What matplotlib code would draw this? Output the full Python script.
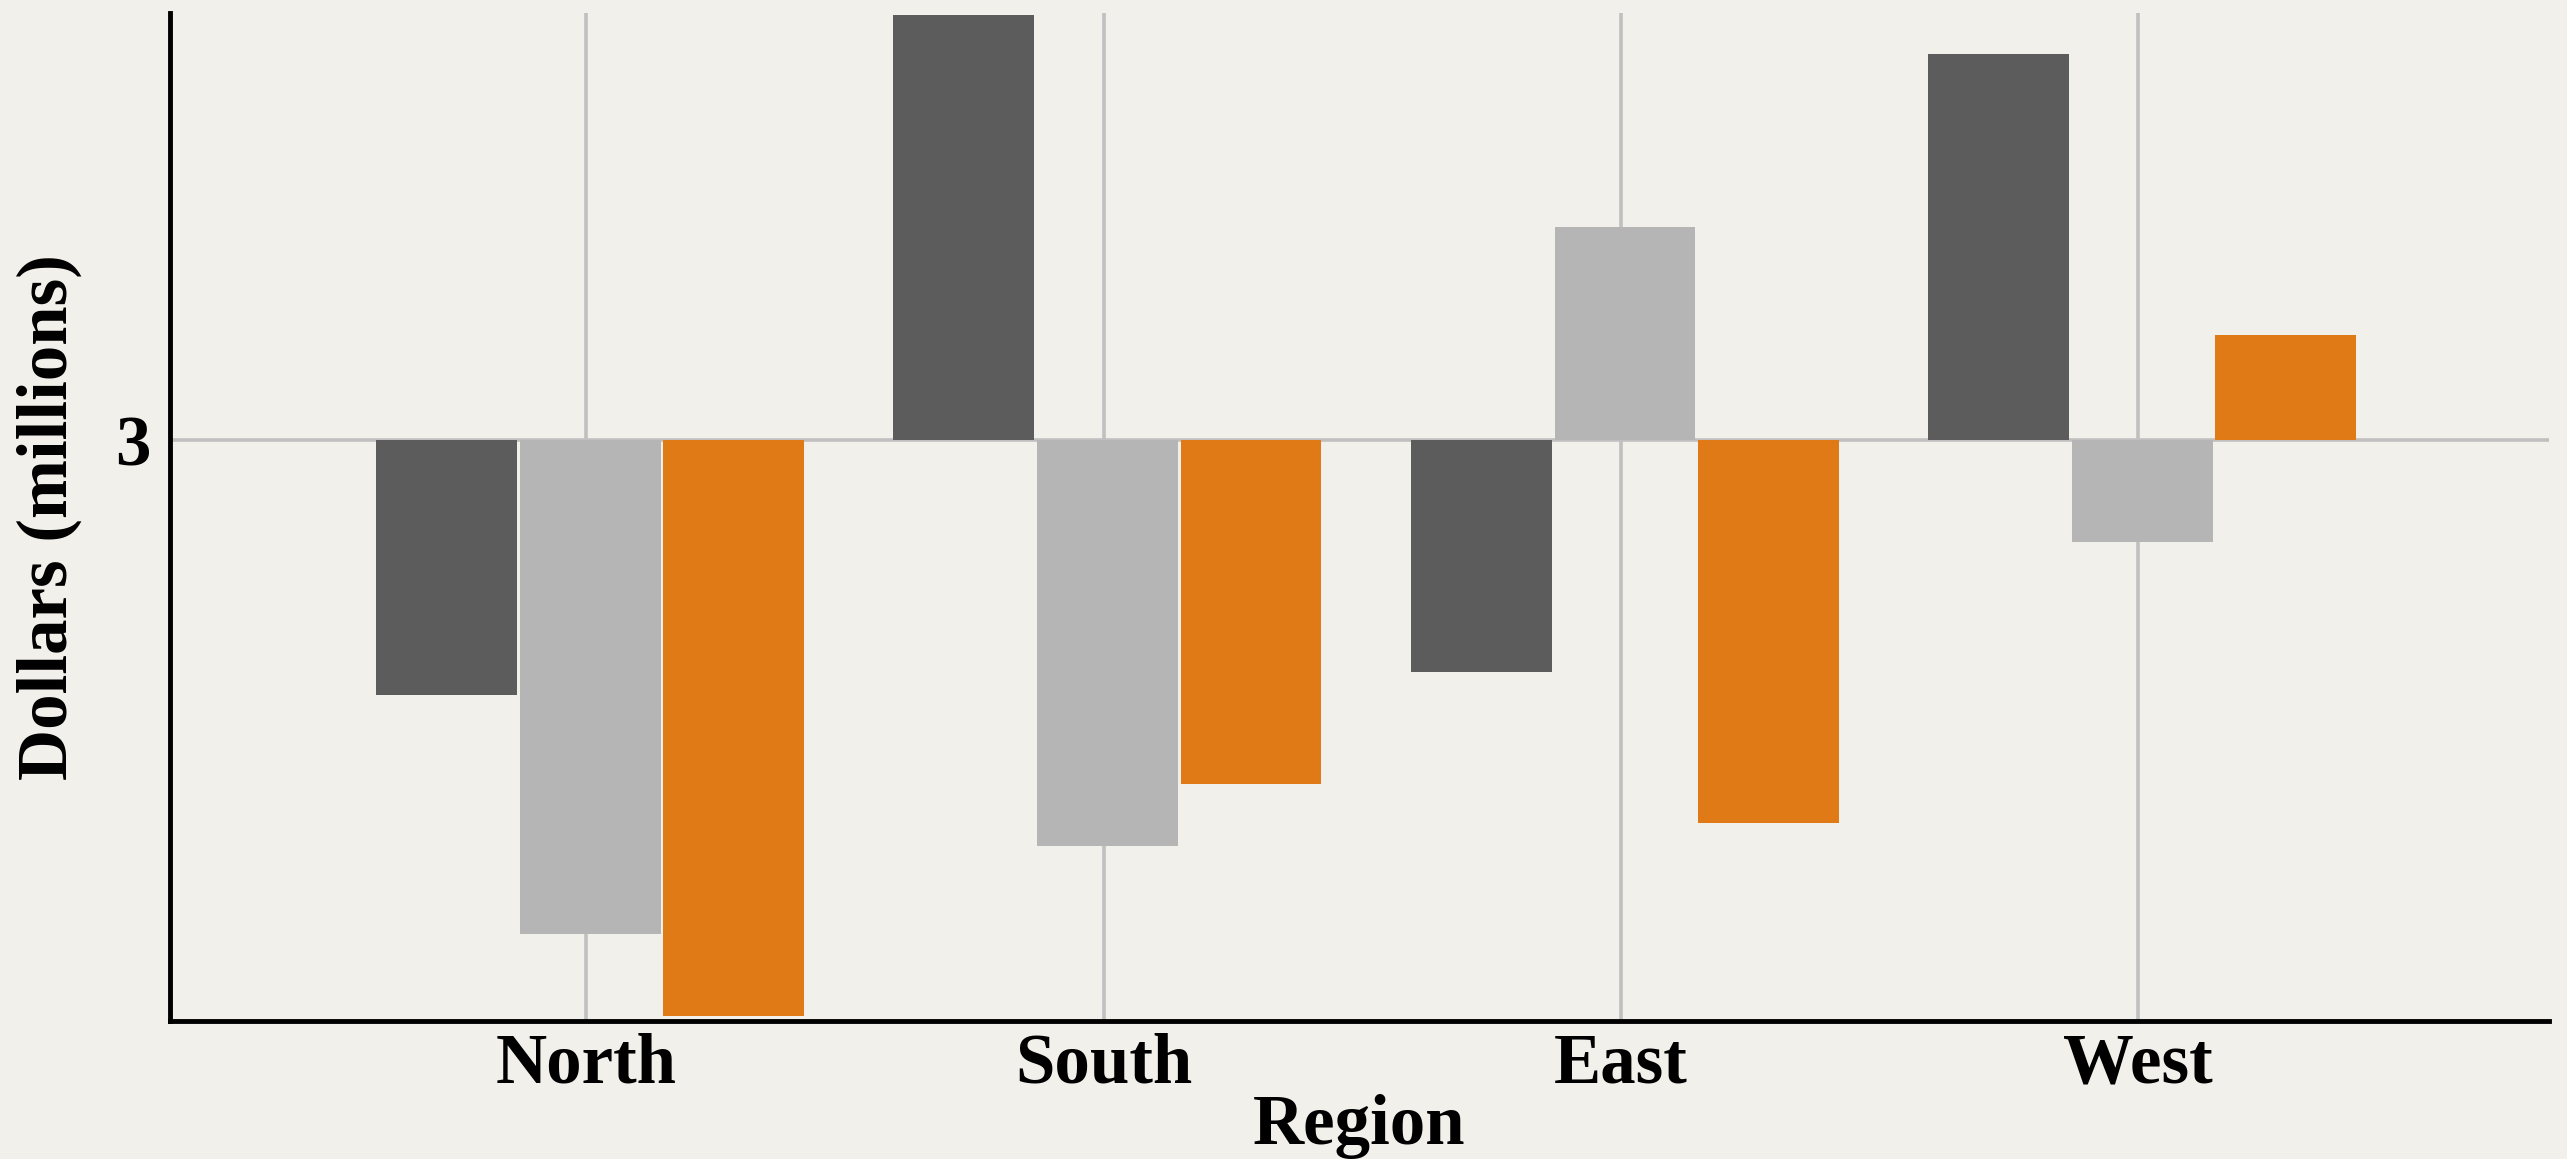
import matplotlib.pyplot as plt
import numpy as np

regions = ['North', 'South', 'East', 'West']
serie_dark = [2.22, 4.30, 2.29, 4.18]
serie_light = [1.49, 1.76, 3.65, 2.69]
serie_orange = [1.24, 1.95, 1.83, 3.32]
baseline = 3

BG = '#f1f0eb'
COLORS = ['#5c5c5c', '#b5b5b5', '#e07a17']
OFFSETS = [-0.27, 0.008, 0.285]
WIDTH = 0.272

plt.rcParams['font.family'] = ['Liberation Serif', 'DejaVu Serif']
plt.rcParams['font.weight'] = 'bold'

fig = plt.figure(figsize=(25.67, 11.59), dpi=100, facecolor=BG)
ax = fig.add_axes([0.0663, 0.119, 0.9267, 0.8698])
ax.set_facecolor(BG)

x = np.arange(len(regions))
for serie, color, off in zip([serie_dark, serie_light, serie_orange], COLORS, OFFSETS):
    heights = [v - baseline for v in serie]
    ax.bar(x + off, heights, width=WIDTH, bottom=baseline, color=color, zorder=2)

ax.set_xlim(-0.804, 3.794)
ax.set_ylim(1.225, 4.305)
ax.set_xticks(x)
ax.set_xticklabels(regions, fontsize=51, fontweight='bold')
ax.set_yticks([baseline])
ax.set_yticklabels(['3'], fontsize=51, fontweight='bold')
ax.tick_params(axis='x', length=0, pad=8)
ax.tick_params(axis='y', length=0, pad=14)

ax.set_axisbelow(True)
ax.grid(True, color='#c0c0c0', linewidth=2.6)

for s in ['top', 'right']:
    ax.spines[s].set_visible(False)
for s in ['left', 'bottom']:
    ax.spines[s].set_linewidth(3.5)
    ax.spines[s].set_color('black')

ax.set_xlabel('Region', fontsize=51, fontweight='bold', labelpad=-2)
ax.set_ylabel('Dollars (millions)', fontsize=51, fontweight='bold', labelpad=24)

fig.savefig('out.png', dpi=100, facecolor=BG)
plt.close(fig)
